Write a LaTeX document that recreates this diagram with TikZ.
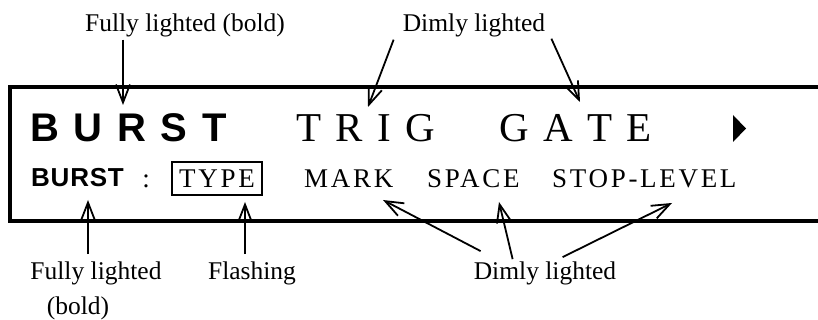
\documentclass[tikz,border=0pt]{standalone}
\usepackage{fontspec}
\setmainfont{Liberation Serif}
\newfontfamily\lcdsans{Liberation Sans}
\usetikzlibrary{arrows.meta,calc}

\begin{document}
\begin{tikzpicture}[
    x=1pt, y=-1pt,
    bigbold/.style={font=\lcdsans\bfseries\fontsize{40}{42}\selectfont\addfontfeature{LetterSpace=9}, inner sep=0, anchor=base west},
    bigdim/.style={font=\fontsize{41}{44}\selectfont\addfontfeature{LetterSpace=10}, inner sep=0, anchor=base west},
    smallbold/.style={font=\lcdsans\bfseries\fontsize{26}{28}\selectfont\addfontfeature{LetterSpace=3}, inner sep=0, anchor=base west},
    smalldim/.style={font=\fontsize{27}{30}\selectfont\addfontfeature{LetterSpace=10}, inner sep=0, anchor=base west},
    note/.style={font=\fontsize{25.5}{28}\selectfont, inner sep=0, anchor=base},
    arrow/.style={-{Straight Barb[length=18pt,width=14pt]}, line width=1.8pt},
    frame/.style={line width=4pt}
]
    \useasboundingbox (0,0) rectangle (818,320);

    % Display frame (open on the right)
    \draw[frame] (818,87) -- (10,87) -- (10,221) -- (818,221);

    % Upper line of the display
    \node[bigbold] (bburst) at (30,142) {B U R S T};
    \node[bigdim] (trig) at (296,142) {T R I G};
    \node[bigdim] (gate) at (499,142) {G A T E};
    \fill (733,115) -- (746,128.5) -- (733,142) -- cycle;

    % Lower line of the display
    \node[smallbold] (sburst) at (31,187) {BURST};
    \node[smalldim, anchor=base] (colon) at (146,188) {:};
    \node[smalldim, anchor=center, draw, line width=1.2pt, minimum width=90, minimum height=33] (type) at (217,178.5) {TYPE};
    \node[smalldim] (mark) at (304,188) {MARK};
    \node[smalldim] (space) at (427,188) {SPACE};
    \node[smalldim] (stop) at (552,188) {STOP-LEVEL};

    % Labels
    \node[note] (topfull) at (185,32) {Fully lighted (bold)};
    \node[note] (topdim) at (474,32) {Dimly lighted};
    \node[note] (botfull) at (96,279) {Fully lighted};
    \node[note] (botbold) at (78,314) {(bold)};
    \node[note] (flash) at (252,279) {Flashing};
    \node[note] (botdim) at (545,279) {Dimly lighted};

    % Arrow tips
    \coordinate (tipa) at (123,105);
    \coordinate (tipb) at (368,107);
    \coordinate (tipc) at (580,102);
    \coordinate (tipf) at (88,200);
    \coordinate (tipt) at (245,202);
    \coordinate (tipm) at (383,200);
    \coordinate (tips) at (499,202);
    \coordinate (tipl) at (672,203);

    % Arrows
    \draw[arrow] ($(topfull.south -| tipa)+(0,2)$) -- (tipa);
    \draw[arrow] ($(topdim.south west)+(-9,2)$) -- (tipb);
    \draw[arrow] ($(topdim.south east)+(6,1)$) -- (tipc);

    \draw[arrow] ($(botfull.north -| tipf)+(0,-7)$) -- (tipf);
    \draw[arrow] ($(flash.north -| tipt)+(0,-7)$) -- (tipt);
    \draw[arrow] ($(botdim.north west)+(7,-10)$) -- (tipm);
    \draw[arrow] ($(botdim.north west)+(39,-2)$) -- (tips);
    \draw[arrow] ($(botdim.north west)+(89,-4)$) -- (tipl);

\end{tikzpicture}
\end{document}
